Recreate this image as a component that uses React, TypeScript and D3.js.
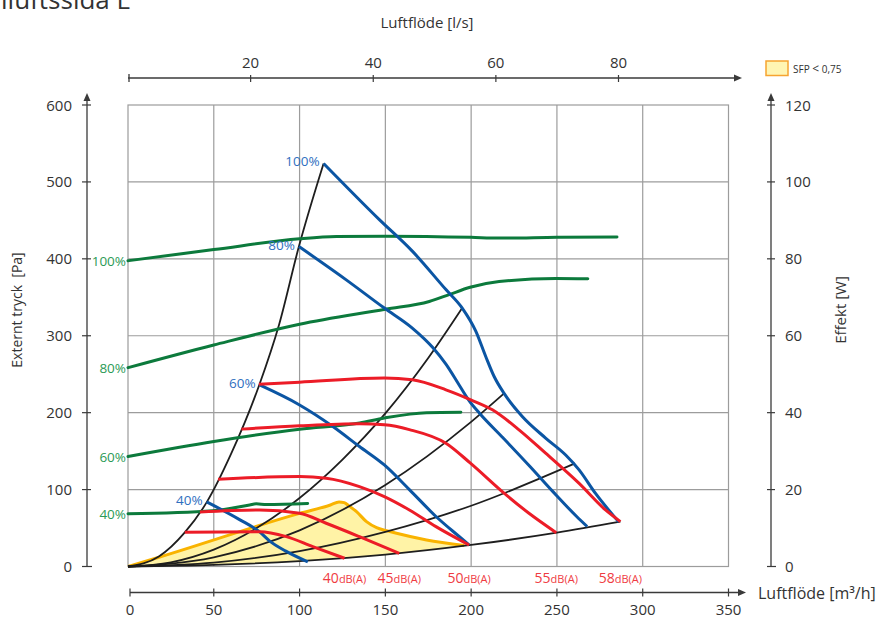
import React from 'react';
import * as d3 from 'd3';

type Pt = [number, number];

const flowTicks = [0, 50, 100, 150, 200, 250, 300, 350];
const lpsTicks = [20, 40, 60, 80];
const pressureTicks = [0, 100, 200, 300, 400, 500, 600];
const powerTicks = [0, 20, 40, 60, 80, 100, 120];

// fläktkurvor, tryck [Pa] mot flöde [m³/h]
const fan100: Pt[] = [[114, 524], [146.5, 451], [165.7, 410], [185.3, 360], [194.8, 336], [202.7, 306], [208.5, 273], [213.4, 247], [219.2, 225], [229.8, 195], [243.4, 167], [255.1, 145], [262.8, 126], [272.5, 95], [286, 58]];
const fan80: Pt[] = [[99.6, 416], [127, 373], [149.4, 336], [165.7, 310], [177.5, 285], [185.3, 263], [193, 236], [199, 215], [205, 199], [218.7, 167], [234.3, 130], [247.8, 97], [261.5, 65], [267.6, 52]];
const fan60: Pt[] = [[76.7, 236], [100, 210], [119.4, 182], [134.9, 156], [149.4, 132], [164, 100], [179.5, 65], [193, 39], [198.8, 28]];
const fan40: Pt[] = [[45.8, 84], [65, 61], [76.7, 45], [82.6, 33], [92, 20], [104.8, 6]];
const fanLabels = ['100%', '80%', '60%', '40%'];

// effekt [W], höger axel
const power100: Pt[] = [[0, 79.5], [50, 82.4], [100, 85.2], [121.5, 85.8], [150, 85.9], [200, 85.6], [216, 85.4], [250, 85.6], [285, 85.7]];
const power80: Pt[] = [[0, 51.7], [50, 57.6], [100, 63], [150, 66.9], [175.6, 68.9], [187.2, 70.7], [199.4, 72.6], [216.3, 74.1], [249.4, 74.9], [268, 74.8]];
const power60: Pt[] = [[0, 28.6], [50, 32.5], [100, 35.7], [135, 37.3], [149.4, 38.6], [174, 40], [194, 40.1]];
const power40: Pt[] = [[0, 13.7], [49.4, 14.5], [70.9, 16], [74.8, 16.3], [80.6, 16.1], [104.7, 16.4]];

// ljudnivå-kurvor
const sound58: Pt[] = [[76.3, 237], [100, 239.7], [149.4, 245], [165.7, 242.7], [185.3, 229.7], [199.8, 216.7], [212.4, 203.7], [227.9, 177.7], [243.4, 147.3], [262.8, 108.3], [278.3, 73.5], [287, 58.3]];
const sound55: Pt[] = [[66.1, 178.6], [100, 182.9], [134.9, 185.5], [149.4, 184.2], [164, 178], [185.3, 160.3], [199.4, 134.7], [219.2, 95.3], [233.7, 69.2], [249.6, 44]];
const sound50: Pt[] = [[52.5, 113.5], [100, 116.9], [115.5, 114.8], [134.9, 103.9], [149.4, 90.9], [164, 73.5], [179.5, 51.8], [198.8, 28]];
const sound45: Pt[] = [[41.9, 70.9], [76.7, 73.5], [100, 69.2], [115.5, 56.2], [134.9, 38.8], [158.1, 17.2]];
const sound40: Pt[] = [[33.1, 44.5], [76.7, 45.3], [92.3, 38.8], [107.7, 25.8], [126.2, 10.7]];
const soundLabels = ['40', '45', '50', '55', '58'];

// systemkurvor
const system1: Pt[] = [[0, 0], [18, 13], [33, 44], [46, 84], [60, 146], [76.5, 236], [88, 314], [99.6, 416], [114, 524]];
const system2: Pt[] = [[0, 0], [25, 5.5], [50, 22], [75, 50], [100, 89], [125, 139], [150, 199], [175, 271], [194.8, 336]];
const system3: Pt[] = [[0, 0], [50, 12], [100, 47], [150, 106], [200, 188], [219.2, 225]];
const system4: Pt[] = [[0, 0], [50, 5], [100, 20], [150, 45], [200, 79], [260.5, 134]];
const system5: Pt[] = [[0, 0], [50, 2], [100, 7], [150, 15.5], [200, 28], [250, 44], [287, 58.3]];

// SFP < 0,75 område
const sfpTop: Pt[] = [[0, 0], [17.6, 11.7], [100, 69], [118, 80], [123, 84], [126, 83], [129, 78.5], [133.2, 71.3], [139, 58.3], [144.9, 50.5], [150.7, 46.6], [156.5, 43.2], [174, 34.5], [196, 27.3]];
const sfpBottom: Pt[] = [[196, 27.3], [150, 15.5], [100, 7], [50, 2], [0, 0]];

const FONT = "'Open Sans', sans-serif";
const BLUE = '#0b55a3';
const GREEN = '#0c7a3c';
const RED = '#ec1c27';
const BLACK = '#1e1e1e';

const x = d3.scaleLinear().domain([0, 350]).range([128, 728.5]);
const y = d3.scaleLinear().domain([0, 600]).range([566.5, 105]);
const yR = d3.scaleLinear().domain([0, 120]).range([566.5, 105]);
const xTop = d3.scaleLinear().domain([0, 80]).range([128, 618.5]);

const App: React.FC = () => {
  const lineP = d3.line<Pt>().x(d => x(d[0])).y(d => y(d[1])).curve(d3.curveMonotoneX);
  const lineW = d3.line<Pt>().x(d => x(d[0])).y(d => yR(d[1])).curve(d3.curveMonotoneX);
  const lineLin = d3.line<Pt>().x(d => x(d[0])).y(d => y(d[1]));

  const fans = [fan100, fan80, fan60, fan40];
  const powers = [power100, power80, power60, power40];
  const sounds = [sound40, sound45, sound50, sound55, sound58];
  const systems = [system1, system2, system3, system4, system5];

  const sfpPath = (lineP(sfpTop) || '') + 'L' + (lineLin(sfpBottom) || '').slice(1) + 'Z';

  const axisCol = '#3a3a3a';
  const gridCol = '#9c9c9c';
  const topY = 78;
  const botY = 592.5;
  const leftX = 87;
  const rightX = 771;

  return (
    <svg width={881} height={619} style={{ position: 'absolute', left: 0, top: 0 }} fontFamily={FONT}>
      <rect width={881} height={619} fill="#fff" />
      <text x={131} y={9} fontSize={26} textAnchor="end" fill="#333">Tilluftssida E</text>

      {/* grid */}
      <rect x={x(0)} y={y(600)} width={x(350) - x(0)} height={y(0) - y(600)} fill="none" stroke={gridCol} strokeWidth={1.2} />
      {flowTicks.slice(1, -1).map(t => (
        <line key={'gx' + t} x1={x(t)} x2={x(t)} y1={y(0)} y2={y(600)} stroke={gridCol} strokeWidth={1.2} />
      ))}
      {pressureTicks.slice(1, -1).map(t => (
        <line key={'gy' + t} x1={x(0)} x2={x(350)} y1={y(t)} y2={y(t)} stroke={gridCol} strokeWidth={1.2} />
      ))}

      {/* top axis l/s */}
      <text x={427} y={28} fontSize={15} textAnchor="middle" fill="#333">Luftflöde [l/s]</text>
      <line x1={x(0)} x2={736} y1={topY} y2={topY} stroke={axisCol} strokeWidth={1.3} />
      <path d={`M742,${topY}L734,${topY - 3.5}L734,${topY + 3.5}Z`} fill={axisCol} />
      <line x1={x(0) + 1} x2={x(0) + 1} y1={topY - 4} y2={topY + 4} stroke={axisCol} strokeWidth={1.3} />
      {lpsTicks.map(t => (
        <g key={'tt' + t}>
          <line x1={xTop(t)} x2={xTop(t)} y1={topY - 3} y2={topY + 4} stroke={axisCol} strokeWidth={1.2} />
          <text x={xTop(t)} y={68.3} fontSize={15} textAnchor="middle" fill="#333">{t}</text>
        </g>
      ))}

      {/* legend */}
      <rect x={766} y={61} width={22} height={14.5} fill="#fff5b3" stroke="#f6a431" strokeWidth={1.5} />
      <text x={793} y={73} fontSize={10} fill="#333">SFP <tspan fontSize={12}>&lt;</tspan> 0,75</text>

      {/* left axis */}
      <line x1={leftX} x2={leftX} y1={y(0)} y2={99} stroke={axisCol} strokeWidth={1.3} />
      <path d={`M${leftX},93L${leftX - 3.5},101L${leftX + 3.5},101Z`} fill={axisCol} />
      {pressureTicks.map(t => (
        <g key={'ly' + t}>
          <line x1={leftX - 5} x2={t === 0 ? leftX + 5 : leftX + 4} y1={y(t)} y2={y(t)} stroke={axisCol} strokeWidth={1.2} />
          <text x={72} y={y(t) + 5.5} fontSize={15} textAnchor="end" fill="#333">{t}</text>
        </g>
      ))}
      <text transform={`translate(22,310) rotate(-90)`} fontSize={14} textAnchor="middle" fill="#333" style={{ whiteSpace: 'pre' }}>Externt tryck  [Pa]</text>

      {/* right axis */}
      <line x1={rightX} x2={rightX} y1={y(0)} y2={99} stroke={axisCol} strokeWidth={1.3} />
      <path d={`M${rightX},93L${rightX - 3.5},101L${rightX + 3.5},101Z`} fill={axisCol} />
      {powerTicks.map(t => (
        <g key={'ry' + t}>
          <line x1={rightX - 4} x2={t === 0 ? rightX + 5 : rightX + 4} y1={yR(t)} y2={yR(t)} stroke={axisCol} strokeWidth={1.2} />
          <text x={785} y={yR(t) + 5.5} fontSize={15} fill="#333">{t}</text>
        </g>
      ))}
      <text transform={`translate(846,310) rotate(-90)`} fontSize={15} textAnchor="middle" fill="#333">Effekt [W]</text>

      {/* bottom axis */}
      <line x1={x(0) + 2} x2={740} y1={botY} y2={botY} stroke={axisCol} strokeWidth={1.3} />
      <path d={`M746,${botY}L738,${botY - 3.5}L738,${botY + 3.5}Z`} fill={axisCol} />
      {flowTicks.map(t => (
        <g key={'bx' + t}>
          <line x1={x(t) + (t === 0 ? 2 : 0)} x2={x(t) + (t === 0 ? 2 : 0)} y1={botY - 4} y2={botY + 4} stroke={axisCol} strokeWidth={1.2} />
          <text x={x(t) + (t === 0 ? 2 : 0)} y={615} fontSize={15} textAnchor="middle" fill="#333">{t}</text>
        </g>
      ))}
      <text x={758} y={599} fontSize={16} fill="#333">Luftflöde [m³/h]</text>

      {/* SFP area */}
      <path d={sfpPath} fill="#fff3a6" stroke="none" />
      <path d={lineP(sfpTop) || ''} fill="none" stroke="#f9b300" strokeWidth={3} strokeLinejoin="round" />

      {/* system curves */}
      {systems.map((s, i) => (
        <path key={'s' + i} d={lineP(s) || ''} fill="none" stroke={BLACK} strokeWidth={1.8} />
      ))}

      {/* power curves */}
      {powers.map((p, i) => (
        <g key={'p' + i}>
          <path d={lineW(p) || ''} fill="none" stroke={GREEN} strokeWidth={3} strokeLinecap="round" />
          <text x={x(0) - 2} y={yR(p[0][1]) + 5} fontSize={13.5} textAnchor="end" fill="#2b9a56">{fanLabels[i]}</text>
        </g>
      ))}

      {/* fan curves */}
      {fans.map((f, i) => (
        <g key={'f' + i}>
          <path d={lineP(f) || ''} fill="none" stroke={BLUE} strokeWidth={3} />
          <text x={x(f[0][0]) - 4} y={y(f[0][1]) + 3} fontSize={13.5} textAnchor="end" fill="#2f6fc0">{fanLabels[i]}</text>
        </g>
      ))}

      {/* sound curves */}
      {sounds.map((s, i) => {
        const end = s[s.length - 1];
        return (
          <g key={'r' + i}>
            <path d={lineP(s) || ''} fill="none" stroke={RED} strokeWidth={3} />
            <text x={x(end[0])} y={583} fontSize={14} textAnchor="middle" fill="#ef3b42">
              {soundLabels[i]}<tspan fontSize={11}>dB(A)</tspan>
            </text>
          </g>
        );
      })}
    </svg>
  );
};

export default App;
